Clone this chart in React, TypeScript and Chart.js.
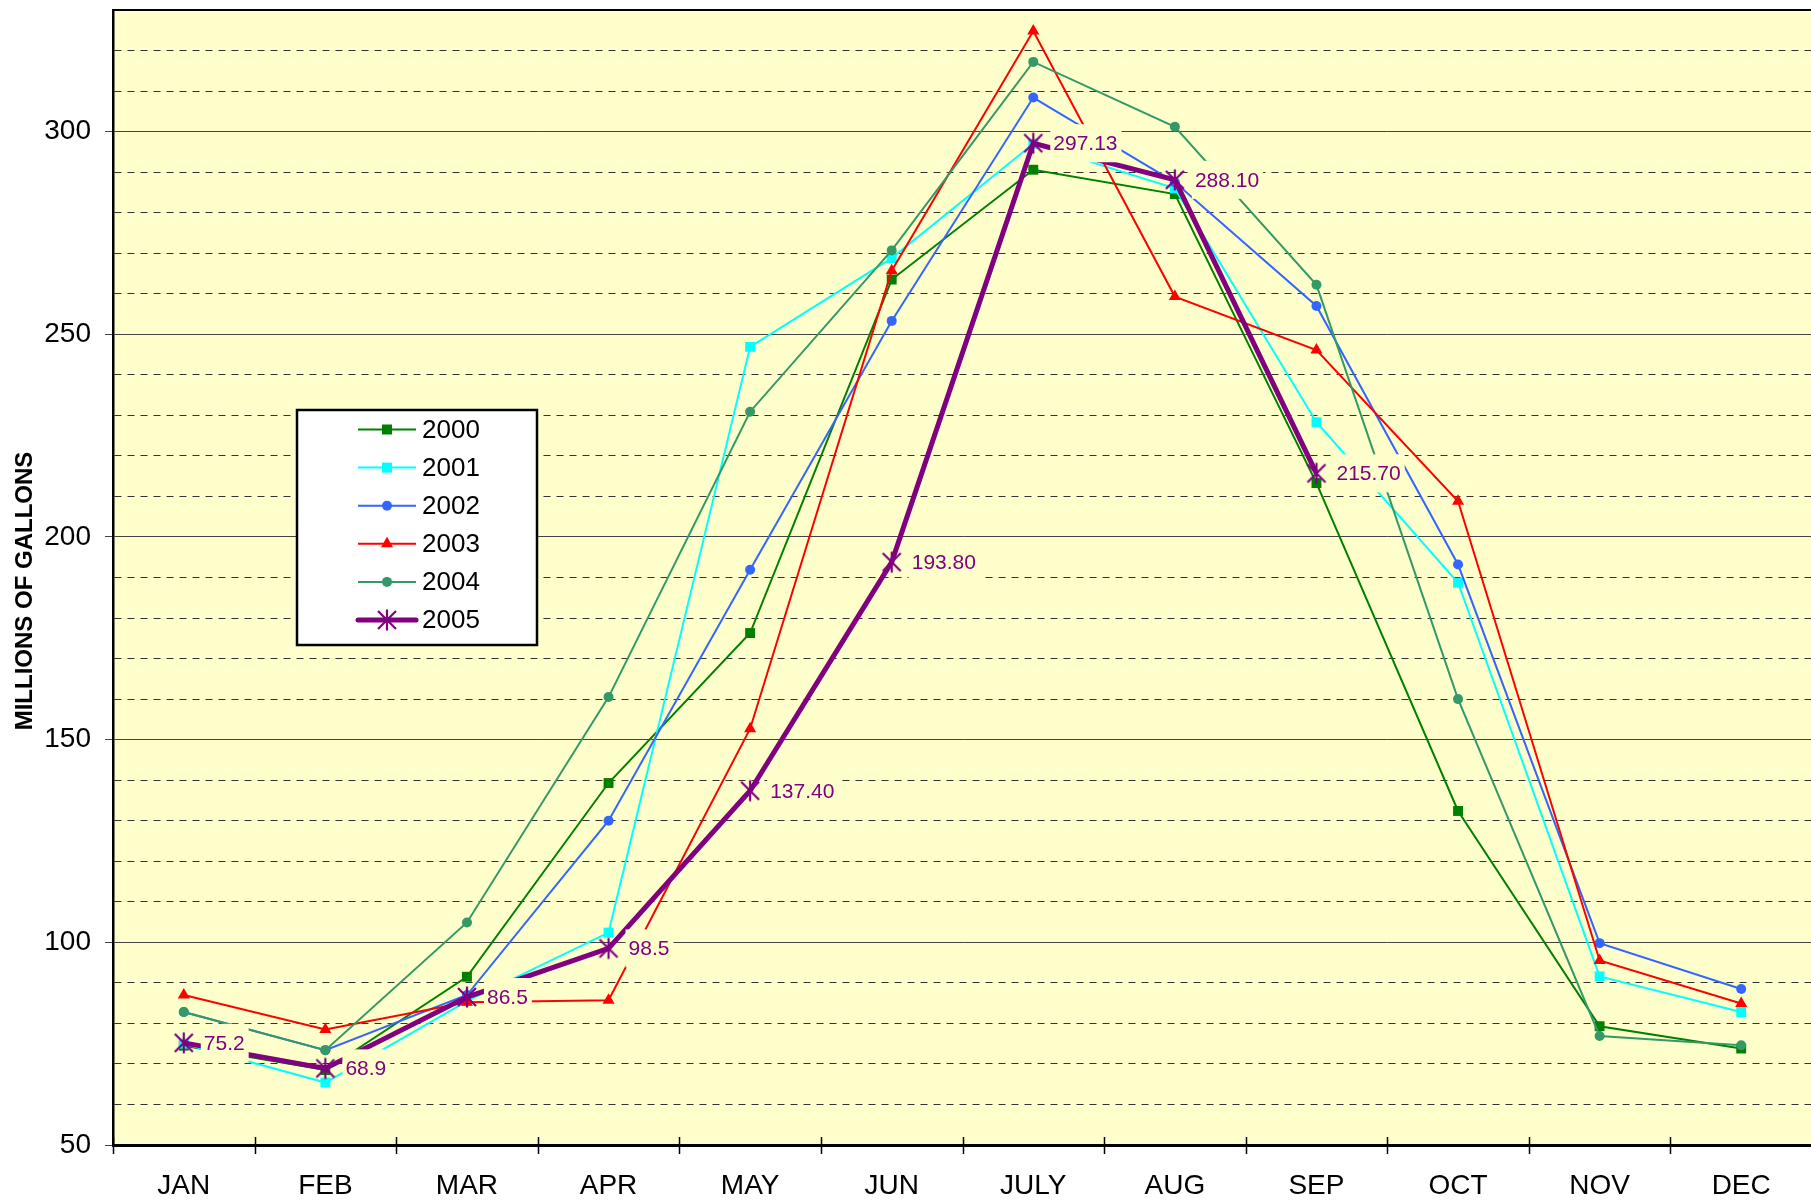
import React, { useEffect, useRef } from 'react';
import { Chart, registerables } from 'chart.js';

Chart.register(...registerables);

const MONTHS = ['JAN', 'FEB', 'MAR', 'APR', 'MAY', 'JUN', 'JULY', 'AUG', 'SEP', 'OCT', 'NOV', 'DEC'];
const SERIES_NAMES = ['2000', '2001', '2002', '2003', '2004', '2005'];
const Y2000 = [74.5, 68.5, 91.5, 139.3, 176.3, 263.5, 290.6, 284.6, 213.3, 132.4, 79.3, 73.8];
const Y2001 = [75.0, 65.4, 85.5, 102.4, 246.9, 268.8, 297.0, 286.0, 228.3, 188.7, 91.6, 82.8];
const Y2002 = [82.8, 73.4, 87.0, 130.0, 191.9, 253.3, 308.4, 287.5, 257.0, 193.2, 99.8, 88.5];
const Y2003 = [87.0, 78.5, 85.2, 85.7, 152.7, 265.7, 324.8, 259.3, 246.1, 208.8, 95.5, 84.9];
const Y2004 = [82.8, 73.4, 104.9, 160.5, 230.9, 270.7, 317.2, 301.2, 262.2, 160.0, 76.9, 74.6];
const Y2005 = [75.2, 68.9, 86.5, 98.5, 137.4, 193.8, 297.13, 288.1, 215.7, null, null, null];
const LABELS_2005 = ['75.2', '68.9', '86.5', '98.5', '137.40', '193.80', '297.13', '288.10', '215.70'];
const Y_MIN = 50;
const Y_MAX = 330;
const Y_STEP = 10;
const Y_MAJOR = 50;

const FONT = '"Liberation Sans", Arial, Helvetica, sans-serif';
const COLORS = ['#008000', '#00FFFF', '#3366FF', '#FF0000', '#339966', '#800080'];
const STYLES = ['rect', 'rect', 'circle', 'triangle', 'circle', 'star'];

const CANVAS_W = 1822;
const VIEW_W = 1811;
const VIEW_H = 1204;

function makeStar(): HTMLCanvasElement {
  const c = document.createElement('canvas');
  c.width = 22;
  c.height = 24;
  const g = c.getContext('2d')!;
  g.strokeStyle = '#800080';
  g.lineWidth = 2.2;
  g.beginPath();
  g.moveTo(11, 1.5);
  g.lineTo(11, 22.5);
  g.moveTo(2, 3);
  g.lineTo(20, 21);
  g.moveTo(20, 3);
  g.lineTo(2, 21);
  g.stroke();
  return c;
}

function drawMarker(ctx: CanvasRenderingContext2D, style: string, color: string, x: number, y: number, star: HTMLCanvasElement) {
  ctx.save();
  ctx.fillStyle = color;
  ctx.beginPath();
  if (style === 'rect') {
    ctx.fillRect(x - 5, y - 5, 10, 10);
  } else if (style === 'circle') {
    ctx.arc(x, y, 5, 0, Math.PI * 2);
    ctx.fill();
  } else if (style === 'triangle') {
    const r = 7;
    ctx.moveTo(x, y - r);
    ctx.lineTo(x + r * Math.sin((2 * Math.PI) / 3), y - r * Math.cos((2 * Math.PI) / 3));
    ctx.lineTo(x + r * Math.sin((4 * Math.PI) / 3), y - r * Math.cos((4 * Math.PI) / 3));
    ctx.closePath();
    ctx.fill();
  } else {
    ctx.drawImage(star, x - star.width / 2, y - star.height / 2);
  }
  ctx.restore();
}

export default function App() {
  const ref = useRef<HTMLCanvasElement | null>(null);

  useEffect(() => {
    const canvas = ref.current;
    if (!canvas) return;
    const star = makeStar();
    const series = [Y2000, Y2001, Y2002, Y2003, Y2004, Y2005];

    const datasets = series.map((data, i) => ({
      label: SERIES_NAMES[i],
      data,
      borderColor: COLORS[i],
      backgroundColor: COLORS[i],
      borderWidth: i === 5 ? 5 : 2,
      pointStyle: i === 5 ? star : STYLES[i],
      pointRadius: STYLES[i] === 'rect' ? 7 : STYLES[i] === 'triangle' ? 7 : i === 5 ? 10 : 5,
      pointBorderWidth: 0,
      pointBackgroundColor: COLORS[i],
      pointBorderColor: COLORS[i],
      tension: 0,
      spanGaps: false,
      order: 5 - i,
    }));

    const bgPlugin = {
      id: 'bgPlot',
      beforeDraw(chart: any) {
        const { ctx, chartArea: a } = chart;
        ctx.save();
        ctx.fillStyle = '#FFFFCC';
        ctx.fillRect(a.left, a.top, a.right - a.left, a.bottom - a.top);
        ctx.restore();
      },
    };

    const overlayPlugin = {
      id: 'overlay',
      afterDatasetsDraw(chart: any) {
        const { ctx } = chart;
        const meta = chart.getDatasetMeta(5);
        ctx.save();
        ctx.font = `21px ${FONT}`;
        ctx.textBaseline = 'middle';
        ctx.textAlign = 'left';
        meta.data.forEach((pt: any, i: number) => {
          if (Y2005[i] == null || !LABELS_2005[i]) return;
          const txt = LABELS_2005[i];
          const w = ctx.measureText(txt).width;
          ctx.fillStyle = '#FFFFCC';
          ctx.fillRect(pt.x + 17, pt.y - 19, w + 7, 38);
          ctx.fillStyle = '#800080';
          ctx.fillText(txt, pt.x + 20, pt.y + 1);
        });
        ctx.restore();
      },
      afterDraw(chart: any) {
        const { ctx, chartArea: a } = chart;
        ctx.save();
        ctx.strokeStyle = '#000';
        ctx.lineWidth = 2;
        ctx.beginPath();
        ctx.moveTo(a.left, a.top);
        ctx.lineTo(a.right, a.top);
        ctx.stroke();
        const n = MONTHS.length;
        const cw = (a.right - a.left) / n;
        ctx.lineWidth = 1.5;
        ctx.beginPath();
        for (let i = 0; i <= n; i++) {
          const x = Math.round(a.left + i * cw) + 0.5;
          ctx.moveTo(x, a.bottom - 8);
          ctx.lineTo(x, a.bottom + 9);
        }
        ctx.stroke();
        ctx.save();
        ctx.translate(25, 591);
        ctx.rotate(-Math.PI / 2);
        ctx.fillStyle = '#000';
        ctx.font = `bold 24px ${FONT}`;
        ctx.textAlign = 'center';
        ctx.textBaseline = 'middle';
        ctx.fillText('MILLIONS OF GALLONS', 0, 0);
        ctx.restore();
        const L = { x: 297, y: 410, w: 240, h: 235 };
        ctx.fillStyle = '#FFFFFF';
        ctx.fillRect(L.x, L.y, L.w, L.h);
        ctx.strokeStyle = '#000';
        ctx.lineWidth = 2.5;
        ctx.strokeRect(L.x, L.y, L.w, L.h);
        ctx.font = `26px ${FONT}`;
        ctx.textBaseline = 'middle';
        ctx.textAlign = 'left';
        for (let i = 0; i < SERIES_NAMES.length; i++) {
          const cy = 429.5 + i * 38.1;
          ctx.strokeStyle = COLORS[i];
          ctx.lineWidth = i === 5 ? 5 : 2;
          ctx.lineCap = i === 5 ? 'round' : 'butt';
          ctx.beginPath();
          ctx.moveTo(358, cy);
          ctx.lineTo(416, cy);
          ctx.stroke();
          drawMarker(ctx, STYLES[i], COLORS[i], 387, cy, star);
          ctx.fillStyle = '#000';
          ctx.fillText(SERIES_NAMES[i], 422, cy + 1);
        }
        ctx.restore();
      },
    };

    const chart = new Chart(canvas, {
      type: 'line',
      data: { labels: MONTHS, datasets: datasets as any },
      options: {
        responsive: false,
        animation: false,
        devicePixelRatio: 1,
        layout: { padding: { top: 9, right: 0, left: 0, bottom: 0 } },
        plugins: { legend: { display: false }, tooltip: { enabled: false } },
        scales: {
          x: {
            type: 'category',
            offset: true,
            grid: { display: false, drawTicks: false },
            border: { display: true, color: '#000', width: 3 },
            ticks: {
              color: '#000',
              font: { family: FONT, size: 28 },
              padding: 24,
              maxRotation: 0,
              autoSkip: false,
            },
            afterFit: (s: any) => {
              s.height = 59;
              s.paddingLeft = 0;
              s.paddingRight = 0;
            },
          },
          y: {
            min: Y_MIN,
            max: Y_MAX,
            grid: {
              color: (c: any) => (c.tick && c.tick.value % Y_MAJOR === 0 ? '#444' : '#333'),
              lineWidth: 1,
              tickLength: 8,
              drawTicks: true,
              tickColor: (c: any) => (c.tick && c.tick.value % Y_MAJOR === 0 ? '#444' : 'rgba(0,0,0,0)'),
            },
            border: {
              display: true,
              color: '#000',
              width: 2.5,
              dash: (c: any) => (c.tick && c.tick.value % Y_MAJOR !== 0 ? [7, 6] : []),
            },
            ticks: {
              stepSize: Y_STEP,
              autoSkip: false,
              color: '#000',
              font: { family: FONT, size: 28 },
              padding: 14,
              callback: (v: any) => (Number(v) % Y_MAJOR === 0 ? String(v) : ''),
            },
            afterFit: (s: any) => {
              s.width = 113;
              s.paddingTop = 0;
              s.paddingBottom = 0;
            },
          },
        },
      } as any,
      plugins: [bgPlugin, overlayPlugin],
    });

    return () => chart.destroy();
  }, []);

  return (
    <div style={{ position: 'absolute', left: 0, top: 0, width: VIEW_W, height: VIEW_H, overflow: 'hidden' }}>
      <canvas ref={ref} width={CANVAS_W} height={VIEW_H} style={{ display: 'block', width: CANVAS_W, height: VIEW_H }} />
    </div>
  );
}
